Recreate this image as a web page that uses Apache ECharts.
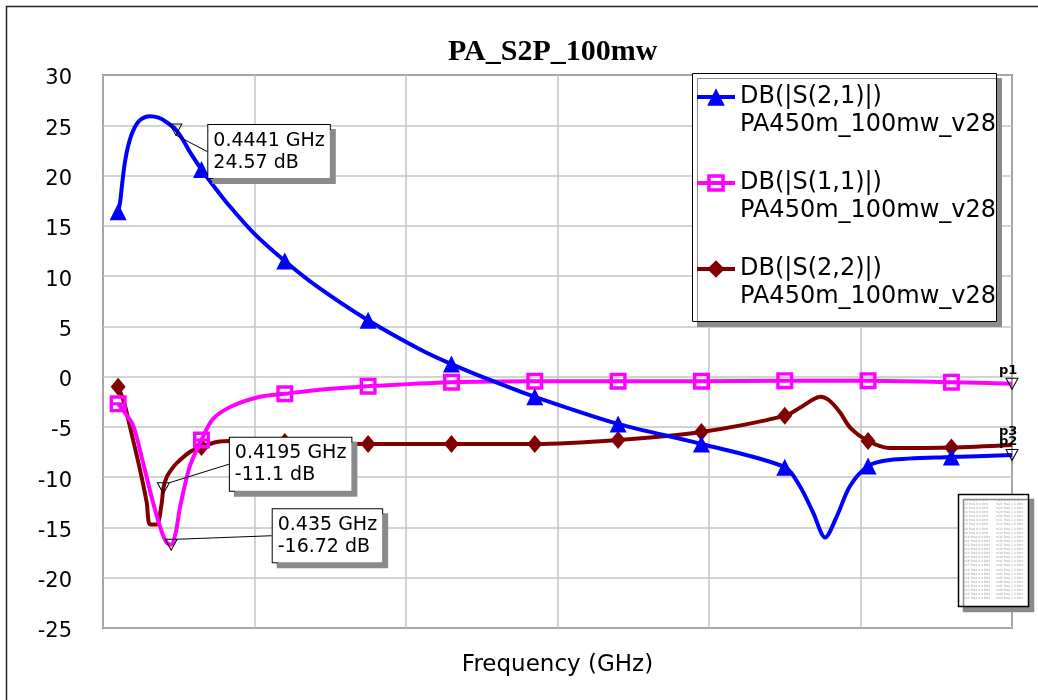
<!DOCTYPE html>
<html>
<head>
<meta charset="utf-8">
<title>PA_S2P_100mw</title>
<script src="https://cdn.jsdelivr.net/npm/echarts@6/dist/echarts.min.js"></script>
<style>
html, body { margin: 0; padding: 0; background: #fff; }
#main { width: 1038px; height: 700px; }
</style>
</head>
<body>
<div id="main"></div>
<script>
// sweep points (GHz) that carry a trace symbol
var symbolFreq = [0.33, 0.495, 0.66, 0.825, 0.99, 1.155, 1.32, 1.485, 1.65, 1.815, 1.98];

// DB(|S(2,1)|)
var s21Freq = [0.33, 0.334, 0.338, 0.343, 0.35, 0.36, 0.373, 0.393, 0.41, 0.426, 0.4441, 0.46, 0.475, 0.495,
               0.52, 0.545, 0.598, 0.66, 0.723, 0.825, 0.928, 0.99, 1.07, 1.155, 1.32, 1.485, 1.65, 1.68, 1.706,
               1.73, 1.753, 1.779, 1.815, 1.858, 1.98, 2.1];
var s21Db   = [16.4, 17.4, 19.2, 21.2, 23.0, 24.5, 25.5, 25.9, 25.75, 25.3, 24.57, 23.4, 22.1, 20.6,
               18.9, 17.3, 14.3, 11.5, 9.0, 5.6, 2.7, 1.25, -0.4, -2.0, -4.7, -6.7, -9.0, -10.9, -13.5,
               -16.0, -13.9, -10.9, -8.9, -8.3, -8.0, -7.8];

// DB(|S(1,1)|)
var s11Freq = [0.33, 0.345, 0.36, 0.379, 0.399, 0.416, 0.4261, 0.435, 0.4441, 0.4525, 0.472, 0.495, 0.518,
               0.557, 0.611, 0.66, 0.74, 0.825, 0.99, 1.155, 1.32, 1.485, 1.65, 1.815, 1.98, 2.1];
var s11Db   = [-2.7, -3.7, -4.9, -8.5, -12.5, -15.4, -16.5, -16.72, -15.5, -13.0, -8.9, -6.3, -4.2,
               -2.9, -2.0, -1.7, -1.25, -0.95, -0.55, -0.45, -0.45, -0.45, -0.4, -0.4, -0.55, -0.7];

// DB(|S(2,2)|)
var s22Freq = [0.33, 0.342, 0.353, 0.373, 0.3865, 0.393, 0.4063, 0.4162, 0.4195, 0.4261, 0.436, 0.446, 0.472,
               0.495, 0.525, 0.557, 0.66, 0.825, 0.99, 1.155, 1.32, 1.485, 1.65, 1.68, 1.705, 1.72, 1.739,
               1.76, 1.78, 1.815, 1.858, 1.98, 2.1];
var s22Db   = [-1.0, -2.6, -4.9, -9.2, -12.5, -14.7, -14.7, -12.6, -11.1, -10.0, -9.2, -8.6, -7.5,
               -7.0, -6.5, -6.4, -6.5, -6.7, -6.7, -6.7, -6.3, -5.5, -3.9, -3.1, -2.3, -2.0, -2.4,
               -3.6, -5.1, -6.4, -7.1, -7.05, -6.8];

// markers
var markerFreq = [0.4441, 0.4195, 0.435];
var markerDb   = [24.57, -11.1, -16.72];
var calloutShift = [[21, 22], [55, -24], [90, -9]];

var dataSetName = 'PA450m_100mw_v28';
var font = 'DejaVu Sans';
var squareSym = 'path://M0,0H20V20H0Z M4,4V16H16V4Z M4,8.3H16V11.7H4Z';

function traceData(freq, db, sym) {
  return freq.map(function (f, i) {
    return { value: [f, db[i]], symbol: symbolFreq.indexOf(f) >= 0 ? sym : 'none' };
  });
}

function lastOf(a) { return a[a.length - 1]; }

var markerData = markerFreq.map(function (f, i) { return { value: [f, markerDb[i]] }; });
markerData.push({ value: [lastOf(s11Freq), lastOf(s11Db)], label: { show: false } });
markerData.push({ value: [lastOf(s21Freq), lastOf(s21Db)], label: { show: false } });

var endLabel = function (txt) {
  return { show: true, formatter: txt, fontFamily: font, fontWeight: 'bold', fontSize: 13,
           color: '#000', offset: [-21, -13] };
};

var tinyLines1 = [], tinyLines2 = [];
for (var k = 1; k <= 25; k++) {
  tinyLines1.push('m' + k + ' Freq 0.4 GHz');
  tinyLines2.push('m' + (k + 25) + ' Freq 1.2 GHz');
}

var myChart = echarts.init(document.getElementById('main'));

var option = {
  animation: false,
  backgroundColor: '#fff',
  title: {
    text: 'PA_S2P_100mw',
    left: 448, top: 37, padding: 0,
    textStyle: { fontFamily: 'Liberation Serif', fontWeight: 'bold', fontSize: 30, color: '#000' }
  },
  grid: {
    left: 103, right: 26, top: 75, bottom: 72,
    show: true, borderColor: '#111', borderWidth: 1.5, backgroundColor: '#fff'
  },
  legend: {
    orient: 'vertical', left: 695, top: 55, padding: 0, itemGap: 2,
    itemWidth: 38, itemHeight: 22, selectedMode: false,
    // empty first line keeps the icon level with the trace name
    formatter: function (name) { return '\n' + name + '\n' + dataSetName; },
    lineStyle: { width: 4 },
    textStyle: { fontFamily: font, fontSize: 24, lineHeight: 28, color: '#000' }
  },
  xAxis: {
    type: 'value', min: 0.3, max: 2.1, interval: 0.3,
    name: 'Frequency (GHz)', nameLocation: 'middle', nameGap: 26,
    nameTextStyle: { fontFamily: font, fontSize: 23, color: '#000' },
    axisLabel: { show: false }, axisTick: { show: false }, axisLine: { show: false },
    splitLine: { show: true, lineStyle: { color: '#c4c4c4', width: 1.5 } }
  },
  yAxis: {
    type: 'value', min: -25, max: 30, interval: 5,
    // tick labels sit a few px below their grid lines
    axisLabel: { fontFamily: font, fontSize: 21, color: '#000', margin: 31,
                 verticalAlign: 'top', lineHeight: 8 },
    axisTick: { show: false }, axisLine: { show: false },
    splitLine: { show: true, lineStyle: { color: '#c4c4c4', width: 1.5 } }
  },
  graphic: [
    { type: 'rect', z: 3, shape: { x: 6.5, y: 6.5, width: 1100, height: 800 },
      style: { fill: null, stroke: '#222', lineWidth: 1.5 } },
    { type: 'rect', z: 3, shape: { x: 692.5, y: 73.5, width: 304, height: 248 },
      style: { fill: '#fff', stroke: '#000', lineWidth: 1, shadowColor: '#8a8a8a',
               shadowOffsetX: 5, shadowOffsetY: 5, shadowBlur: 0 } },
    { type: 'rect', z: 5, shape: { x: 958.5, y: 494.5, width: 70, height: 112 },
      style: { fill: '#fff', stroke: '#000', lineWidth: 1.5, shadowColor: '#8a8a8a',
               shadowOffsetX: 5, shadowOffsetY: 5, shadowBlur: 0 } },
    { type: 'text', z: 6, x: 963, y: 498,
      style: { text: tinyLines1.join('\n'), font: '3px DejaVu Sans', fill: '#9a9a9a', lineHeight: 4.1 } },
    { type: 'text', z: 6, x: 996, y: 498,
      style: { text: tinyLines2.join('\n'), font: '3px DejaVu Sans', fill: '#9a9a9a', lineHeight: 4.1 } }
  ],
  series: [
    {
      name: 'DB(|S(2,1)|)', type: 'line', z: 4, smooth: 0.3,
      data: traceData(s21Freq, s21Db, 'triangle'),
      symbol: 'triangle', symbolSize: 17, showAllSymbol: true,
      lineStyle: { color: '#0000ff', width: 4 }, itemStyle: { color: '#0000ff' },
      endLabel: endLabel('p2')
    },
    {
      name: 'DB(|S(1,1)|)', type: 'line', z: 3, smooth: 0.3,
      data: traceData(s11Freq, s11Db, squareSym),
      symbol: squareSym, symbolSize: 17, showAllSymbol: true,
      lineStyle: { color: '#ff00ff', width: 4 }, itemStyle: { color: '#ff00ff' },
      endLabel: endLabel('p1')
    },
    {
      name: 'DB(|S(2,2)|)', type: 'line', z: 2, smooth: 0.3,
      data: traceData(s22Freq, s22Db, 'diamond'),
      symbol: 'diamond', symbolSize: [15, 18], showAllSymbol: true,
      lineStyle: { color: '#800000', width: 4 }, itemStyle: { color: '#800000' },
      endLabel: endLabel('p3')
    },
    {
      type: 'scatter', z: 10, silent: true,
      data: markerData,
      symbol: 'triangle', symbolRotate: 180, symbolSize: [12, 11],
      itemStyle: { color: 'rgba(0,0,0,0)', borderColor: '#000', borderWidth: 1, opacity: 1 },
      label: {
        show: true, position: 'right', distance: 5,
        formatter: function (p) { return p.value[0] + ' GHz\n' + p.value[1] + ' dB'; },
        fontFamily: font, fontSize: 19, lineHeight: 22, color: '#000',
        backgroundColor: '#fff', borderColor: '#000', borderWidth: 1,
        padding: [5, 5, 4, 5],
        shadowColor: '#8a8a8a', shadowOffsetX: 5, shadowOffsetY: 5, shadowBlur: 0
      },
      labelLine: { show: true, lineStyle: { color: '#000', width: 1 } },
      labelLayout: function (p) {
        var d = calloutShift[p.dataIndex];
        return d ? { dx: d[0], dy: d[1] } : null;
      }
    }
  ]
};

myChart.setOption(option);

window.addEventListener('resize', function () {
  myChart.resize();
});
</script>
</body>
</html>
